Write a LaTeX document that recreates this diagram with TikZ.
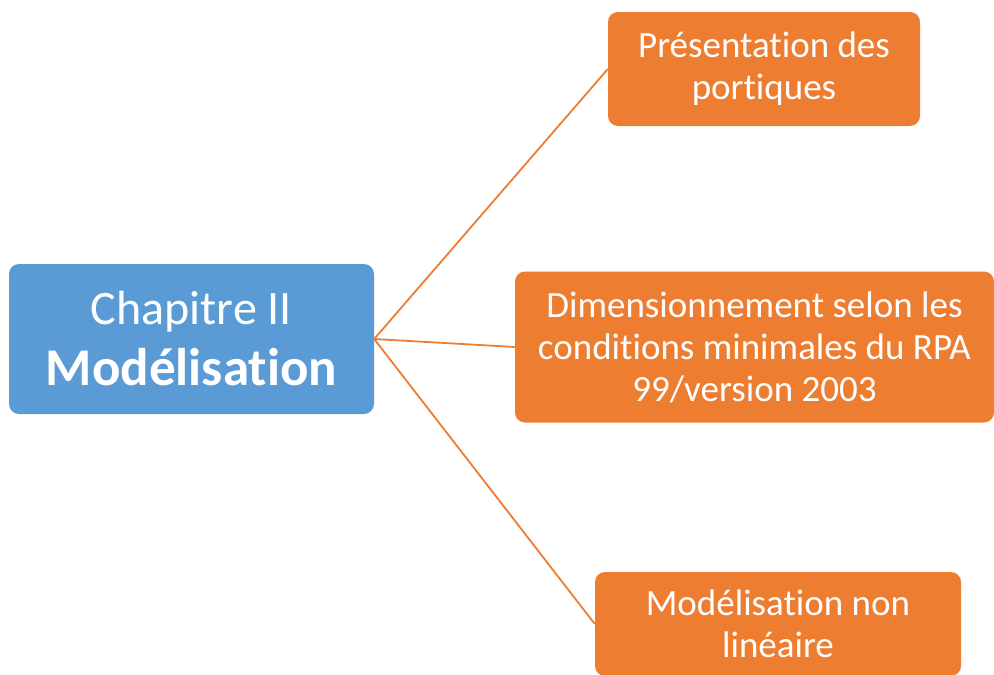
\documentclass[tikz,border=0pt]{standalone}
\usepackage{fontspec}
\setmainfont{Carlito}[Ligatures=NoCommon, Contextuals=NoAlternate]
\definecolor{boxblue}{HTML}{5B9BD5}
\definecolor{boxorange}{HTML}{ED7D31}
\begin{document}
\begin{tikzpicture}[x=1pt,y=-1pt,
  mainbox/.style={fill=boxblue, rounded corners=10pt, inner sep=0pt, text=white, align=center,
    font=\fontsize{48}{61}\selectfont},
  subbox/.style={fill=boxorange, rounded corners=10pt, inner sep=0pt, text=white, align=center,
    font=\fontsize{37}{42}\selectfont},
  link/.style={draw=boxorange, line width=1.8pt}]
\useasboundingbox (0,0) rectangle (994,675);
\clip (0,0) rectangle (994,675);
\node[mainbox, minimum width=365pt, minimum height=150pt] (main) at (191.5,339)
  {Chapitre II\\{\fontsize{53}{61}\selectfont\bfseries Modélisation}};
\node[subbox, minimum width=312pt, minimum height=114pt] (a) at (764,69)
  {Présentation des\\portiques};
\node[subbox, minimum width=479pt, minimum height=151pt] (b) at (754.5,347)
  {Dimensionnement selon les\\conditions minimales du RPA\\99/version 2003};
\node[subbox, minimum width=366pt, minimum height=104pt] (c) at (778,624)
  {Modélisation non\\linéaire};
\draw[link] (main.east) -- (a.west);
\draw[link] (main.east) -- (b.west);
\draw[link] (main.east) -- (c.west);
\end{tikzpicture}
\end{document}
